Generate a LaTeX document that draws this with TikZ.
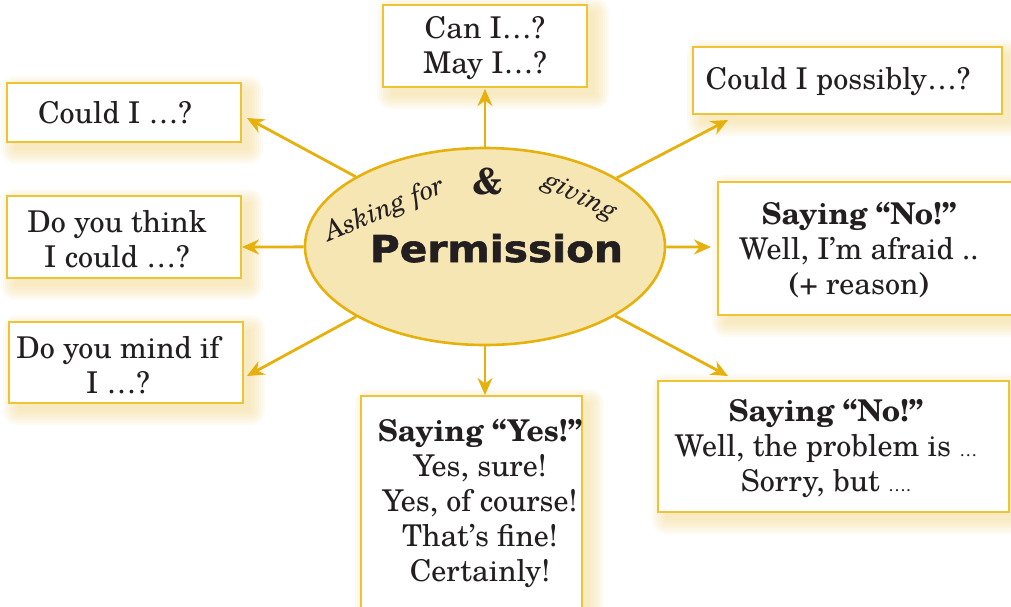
\documentclass[tikz,border=0pt]{standalone}
\usepackage{fontspec}
\setmainfont{TeX Gyre Schola}
\newfontfamily\heavy{DejaVu Sans}[FakeStretch=1.1, FakeBold=1.6]
\usetikzlibrary{shapes.geometric,arrows.meta}
\definecolor{gold}{HTML}{E6B10C}
\definecolor{boxline}{HTML}{EEC334}
\definecolor{ellfill}{HTML}{F6E6B4}
\definecolor{glow}{HTML}{F0D27E}
\definecolor{ink}{HTML}{231F20}
\newcommand\glowbox[5]{%
  \foreach \r in {0,2,...,14}{\fill[glow, fill opacity=0.08, rounded corners=\r] ({#2+8-\r},{#3+7-\r}) rectangle ({#4+8+\r},{#5+8+\r});}
  \node[box, minimum width={#4-#2}, minimum height={#5-#3}] (#1) at ({(#2+#4)/2},{(#3+#5)/2}) {};
}
\begin{document}
\begin{tikzpicture}[x=1pt,y=-1pt,
  box/.style={draw=boxline, line width=1.6pt, fill=white, inner sep=0pt, outer sep=0pt},
  txt/.style={align=center, text=ink, font=\fontsize{30}{35}\selectfont, inner sep=0pt},
  conn/.style={draw=gold, line width=2.8pt, -{Stealth[length=17pt,width=15pt]}},
  curv/.style={text=ink, font=\fontsize{27}{27}\selectfont\itshape, inner sep=0pt}
]
\useasboundingbox (0,0) rectangle (1011,606);
% boxes
\glowbox{b1}{383}{5}{587}{87}
\glowbox{b2}{693}{47}{1002}{114}
\glowbox{b3}{7}{83}{241}{142}
\glowbox{b4}{7}{196}{241}{278}
\glowbox{b5}{9}{322}{243}{403}
\glowbox{b6}{718}{182}{1016}{315}
\glowbox{b7}{658}{381}{1009}{512}
\glowbox{b8}{361}{396}{582}{620}
% central ellipse
\node[ellipse, draw=gold, line width=2.6pt, fill=ellfill, minimum width=360, minimum height=197, inner sep=0pt] (ell) at (485,246.5) {};
% arrow targets
\coordinate (t1) at (485,89);
\coordinate (t2) at (728,120);
\coordinate (t3) at (247,118);
\coordinate (t4) at (242,247);
\coordinate (t5) at (711,247);
\coordinate (t6) at (247,376);
\coordinate (t7) at (728,376);
\coordinate (t8) at (485,395);
\foreach \t in {t1,t2,t3,t4,t5,t6,t7,t8}{\draw[conn] (ell) -- (\t);}
% ellipse texts
\node[curv, rotate=23] (ask) at (385,210) {Asking for};
\node[text=ink, font=\fontsize{36}{36}\selectfont\bfseries, inner sep=0pt] (amp) at (488,182) {\&};
\node[curv, rotate=-26] (giv) at (580,198) {giving};
\node[text=ink, font=\heavy\bfseries\fontsize{37}{37}\selectfont, inner sep=0pt, anchor=base] (perm) at (496.5,262) {Permission};
% box texts
\node[txt] (l1) at (485,48) {Can I…?\\May I…?};
\node[txt] (l2) at (838,82) {Could I possibly…?};
\node[txt] (l3) at (115,113) {Could I …?};
\node[txt] (l4) at (117,239) {Do you think\\I could …?};
\node[txt] (l5) at (118,365) {Do you mind if\\I …?};
\node[txt] (l6) at (859,250) {\textbf{Saying “No!”}\\Well, I’m afraid ..\\\textbf{(}+ reason\textbf{)}};
\node[txt] (l7) at (826,448) {\textbf{Saying “No!”}\\Well, the problem is {\fontsize{18}{18}\selectfont…}\\Sorry, but {\fontsize{18}{18}\selectfont….}};
\node[txt] (l8) at (480,503) {\textbf{Saying “Yes!”}\\Yes, sure!\\Yes, of course!\\That’s fine!\\Certainly!};
\end{tikzpicture}
\end{document}
